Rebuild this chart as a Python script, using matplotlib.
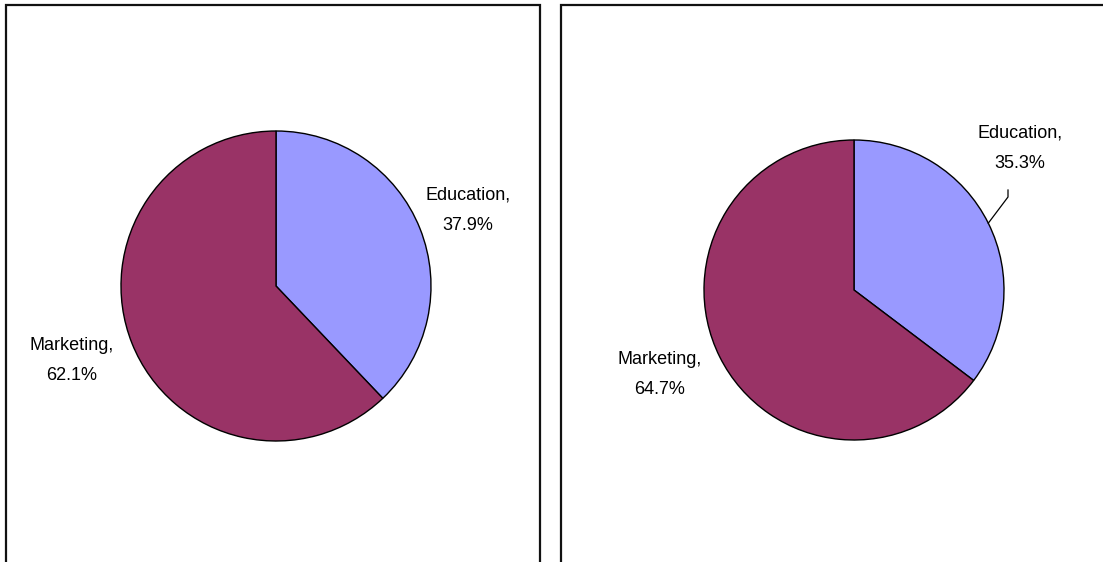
import numpy as np
import matplotlib
matplotlib.use('Agg')
import matplotlib.pyplot as plt

plt.rcParams['font.family'] = ['Liberation Sans', 'DejaVu Sans']

categories = ['Education', 'Marketing']
left_values = [37.9, 62.1]
right_values = [35.3, 64.7]
colors = ['#9999FF', '#993366']

W, H = 1103, 562
fig = plt.figure(figsize=(W / 100, H / 100), dpi=100)
ax = fig.add_axes([0, 0, 1, 1])

def py(y):
    # pixel row -> data y
    return H - y

# panel borders (bottom open, cut by the image edge)
for x0, x1 in [(6, 540), (561, W + 10)]:
    ax.plot([x0, x0, x1, x1], [py(H + 10), py(5), py(5), py(H + 10)],
            color='#111111', lw=1.6, solid_joinstyle='miter', clip_on=False)

def draw_pie(values, cx, cy, r):
    wedges, _ = ax.pie(values, colors=colors, startangle=90, counterclock=False,
                       center=(cx, py(cy)), radius=r,
                       wedgeprops=dict(edgecolor='black', linewidth=1.0))
    return wedges

fs = 13
ls = 2.0
wl = draw_pie(left_values, 276, 286, 155)
ax.text(468, py(210), '%s,\n%.1f%%' % (categories[0], left_values[0]),
        ha='center', va='center', fontsize=fs, linespacing=ls)
ax.text(72, py(361), '%s,\n%.1f%%' % (categories[1], left_values[1]),
        ha='center', va='center', fontsize=fs, linespacing=ls)

wr = draw_pie(right_values, 854, 290, 150)
ax.text(1020, py(148), '%s,\n%.1f%%' % (categories[0], right_values[0]),
        ha='center', va='center', fontsize=fs, linespacing=ls)
ax.text(660, py(375), '%s,\n%.1f%%' % (categories[1], right_values[1]),
        ha='center', va='center', fontsize=fs, linespacing=ls)

# leader line for right Education label
ang = np.deg2rad(90 - right_values[0] * 3.6 / 2)
sx, sy = 854 + 150 * np.cos(ang), py(290) + 150 * np.sin(ang)
ax.plot([sx, 1008, 1008], [sy, py(197), py(190)], color='black', lw=0.9)

ax.set_xlim(0, W)
ax.set_ylim(0, H)
ax.set_aspect('auto')
ax.axis('off')

fig.savefig('out.png', dpi=100)
